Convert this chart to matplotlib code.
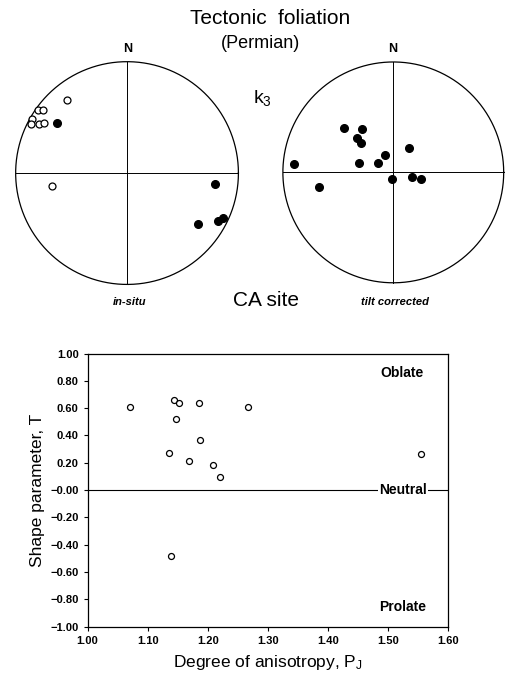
import matplotlib.pyplot as plt
import numpy as np

plt.rcParams['font.family'] = ['Liberation Sans', 'DejaVu Sans']
plt.rcParams['mathtext.default'] = 'regular'

# k3 axes, in-situ (east, north in unit circle of the projection)
insitu_open_x = [-0.538, -0.802, -0.752, -0.855, -0.862, -0.790, -0.746, -0.671]
insitu_open_y = [0.658, 0.562, 0.562, 0.482, 0.444, 0.444, 0.449, -0.119]
insitu_full_x = [-0.627, 0.790, 0.641, 0.817, 0.864]
insitu_full_y = [0.451, -0.098, -0.458, -0.426, -0.404]

# k3 axes, tilt corrected
tilt_x = [-0.446, -0.281, -0.331, -0.295, -0.075, -0.136, -0.310, -0.899,
          0.145, -0.670, -0.014, 0.166, 0.251]
tilt_y = [0.401, 0.389, 0.313, 0.262, 0.157, 0.081, 0.081, 0.075,
          0.220, -0.136, -0.061, -0.040, -0.058]

# shape parameter vs degree of anisotropy
pj = [1.071, 1.144, 1.152, 1.185, 1.268, 1.148, 1.187, 1.135, 1.169,
      1.209, 1.221, 1.555, 1.139]
T = [0.605, 0.661, 0.637, 0.637, 0.610, 0.524, 0.368, 0.273, 0.215,
     0.183, 0.098, 0.263, -0.480]

fig = plt.figure(figsize=(5.06, 6.76), dpi=100)


def stereonet(rect):
    ax = fig.add_axes(rect)
    t = np.linspace(0, 2 * np.pi, 400)
    ax.plot(np.cos(t), np.sin(t), color='black', lw=0.9)
    ax.plot([-1, 1], [0, 0], color='black', lw=0.7)
    ax.plot([0, 0], [-1, 1], color='black', lw=0.7)
    ax.set_xlim(-1.05, 1.05)
    ax.set_ylim(-1.05, 1.05)
    ax.set_aspect('equal')
    ax.axis('off')
    return ax


ax1 = stereonet([0.0198, 0.571, 0.4625, 0.346])
ax1.plot(insitu_open_x, insitu_open_y, 'o', mfc='white', mec='black', ms=5, mew=0.9)
ax1.plot(insitu_full_x, insitu_full_y, 'o', color='black', ms=5.5)

ax2 = stereonet([0.548, 0.5735, 0.4585, 0.343])
ax2.plot(tilt_x, tilt_y, 'o', color='black', ms=5.5)

fig.text(270 / 506, 1 - 18 / 676, 'Tectonic  foliation', ha='center', va='center', fontsize=15)
fig.text(261 / 506, 1 - 43 / 676, '(Permian)', ha='center', va='center', fontsize=13)
fig.text(128 / 506, 1 - 49 / 676, 'N', ha='center', va='center', fontsize=9, fontweight='bold')
fig.text(393 / 506, 1 - 49 / 676, 'N', ha='center', va='center', fontsize=9, fontweight='bold')
fig.text(262 / 506, 1 - 98 / 676, 'k$_3$', ha='center', va='center', fontsize=14)
fig.text(266 / 506, 1 - 300 / 676, 'CA site', ha='center', va='center', fontsize=15)
fig.text(130 / 506, 1 - 302 / 676, 'in-situ', ha='center', va='center', fontsize=8,
         fontweight='bold', style='italic')
fig.text(395 / 506, 1 - 302 / 676, 'tilt corrected', ha='center', va='center', fontsize=8,
         fontweight='bold', style='italic')

ax = fig.add_axes([0.173, 0.073, 0.712, 0.404])
ax.plot(pj, T, 'o', mfc='white', mec='black', ms=4.3, mew=0.9)
ax.axhline(0, color='black', lw=0.8)
ax.set_xlim(1.0, 1.6)
ax.set_ylim(-1.0, 1.0)
ax.set_xticks(np.arange(1.0, 1.61, 0.1))
ax.set_yticks(np.arange(-1.0, 1.01, 0.2))
ax.xaxis.set_major_formatter('{x:.2f}')
ax.yaxis.set_major_formatter('{x:.2f}')
ax.tick_params(direction='out', length=3, width=0.8, labelsize=8)
for lbl in ax.get_xticklabels() + ax.get_yticklabels():
    lbl.set_fontweight('bold')
for s in ax.spines.values():
    s.set_linewidth(0.9)
ax.set_xlabel('Degree of anisotropy, P$_J$', fontsize=12.5, labelpad=5)
ax.set_ylabel('Shape parameter, T', fontsize=12.5)
ax.text(1.523, 0.86, 'Oblate', ha='center', va='center', fontsize=10, fontweight='bold')
ax.text(1.525, 0.0, 'Neutral', ha='center', va='center', fontsize=10, fontweight='bold',
        bbox=dict(facecolor='white', edgecolor='none', pad=1))
ax.text(1.525, -0.853, 'Prolate', ha='center', va='center', fontsize=10, fontweight='bold')

fig.savefig('out.png', dpi=100)
